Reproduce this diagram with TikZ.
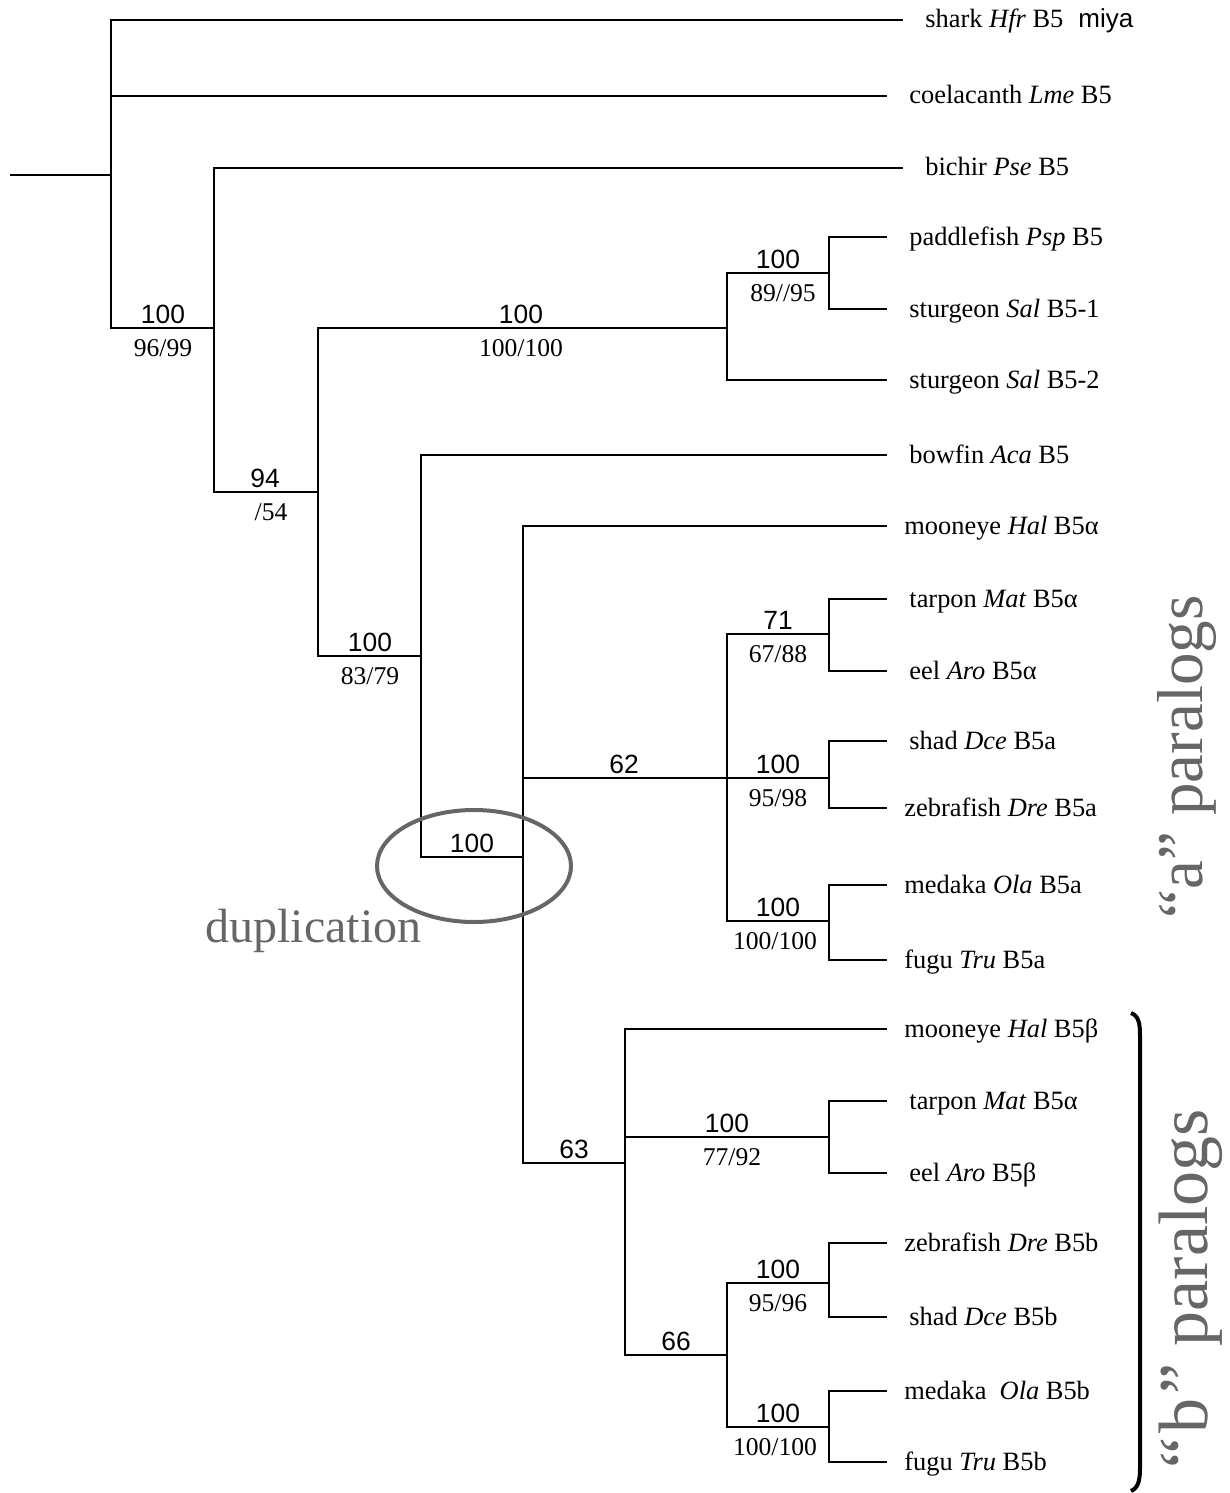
\documentclass[tikz,border=0pt]{standalone}
\usepackage{fontspec}
\setmainfont{Liberation Serif}
\setsansfont{Liberation Sans}
\usetikzlibrary{shapes.geometric}
\definecolor{dupgray}{HTML}{666666}
\begin{document}
\begin{tikzpicture}[x=0.5pt,y=-0.5pt,
  br/.style={line width=1.1pt},
  leaf/.style={anchor=west,inner xsep=11pt,inner ysep=0pt,text height=11pt,text depth=3pt,font=\fontsize{13.2}{15}\selectfont},
  leafn/.style={leaf,inner xsep=8.5pt},
  bsup/.style={anchor=south,inner sep=2pt,font=\sffamily\fontsize{13.2}{15}\selectfont},
  bsdn/.style={anchor=north,inner xsep=2pt,inner ysep=5.5pt,font=\fontsize{12.8}{15}\selectfont},
  note/.style={text=dupgray,inner sep=0pt}]
  \useasboundingbox (0,0) rectangle (1230,1493);

  % leaves
  \node[leaf] (shark) at (903,20) {shark \textit{Hfr} B5};
  \node[leaf] (coel) at (887,96) {coelacanth \textit{Lme} B5};
  \node[leaf] (bichir) at (903,168) {bichir \textit{Pse} B5};
  \node[leaf] (paddle) at (887,237) {paddlefish \textit{Psp} B5};
  \node[leaf] (sturA) at (887,309) {sturgeon \textit{Sal} B5-1};
  \node[leaf] (sturB) at (887,380) {sturgeon \textit{Sal} B5-2};
  \node[leaf] (bowfin) at (887,455) {bowfin \textit{Aca} B5};
  \node[leafn] (moonA) at (887,526) {mooneye \textit{Hal} B5α};
  \node[leaf] (tarpA) at (887,599) {tarpon \textit{Mat} B5α};
  \node[leaf] (eelA) at (887,671) {eel \textit{Aro} B5α};
  \node[leaf] (shadA) at (887,741) {shad \textit{Dce} B5a};
  \node[leafn] (zebA) at (887,808) {zebrafish \textit{Dre} B5a};
  \node[leafn] (medA) at (887,885) {medaka \textit{Ola} B5a};
  \node[leafn] (fuguA) at (887,960) {fugu \textit{Tru} B5a};
  \node[leafn] (moonB) at (887,1029) {mooneye \textit{Hal} B5β};
  \node[leaf] (tarpB) at (887,1101) {tarpon \textit{Mat} B5α};
  \node[leaf] (eelB) at (887,1173) {eel \textit{Aro} B5β};
  \node[leafn] (zebB) at (887,1243) {zebrafish \textit{Dre} B5b};
  \node[leaf] (shadB) at (887,1317) {shad \textit{Dce} B5b};
  \node[leafn] (medB) at (887,1391) {medaka\ \ \textit{Ola} B5b};
  \node[leafn] (fuguB) at (887,1462) {fugu \textit{Tru} B5b};
  \node[anchor=base west,inner sep=0pt,font=\sffamily\fontsize{13}{15}\selectfont] (miya) at (1078,28) {miya};

  % internal nodes
  \coordinate (root) at (10,175);
  \coordinate (n1) at (111,175);
  \coordinate (n2) at (214,328);
  \coordinate (n3) at (318,492);
  \coordinate (n4) at (727,328);
  \coordinate (n5) at (829,273);
  \coordinate (n6) at (421,656);
  \coordinate (n7) at (523,857);
  \coordinate (n8) at (727,778);
  \coordinate (n9) at (829,634);
  \coordinate (n10) at (829,778);
  \coordinate (n11) at (829,921);
  \coordinate (n12) at (625,1163);
  \coordinate (n13) at (829,1137);
  \coordinate (n14) at (727,1355);
  \coordinate (n15) at (829,1283);
  \coordinate (n16) at (829,1427);

  % branches
  \draw[br] (root) -- (n1);
  \draw[br] (n1) |- (shark.west); \draw[br] (n1) |- (coel.west); \draw[br] (n1) |- (n2);
  \draw[br] (n2) |- (bichir.west); \draw[br] (n2) |- (n3);
  \draw[br] (n3) |- (n4); \draw[br] (n3) |- (n6);
  \draw[br] (n4) |- (n5); \draw[br] (n4) |- (sturB.west);
  \draw[br] (n5) |- (paddle.west); \draw[br] (n5) |- (sturA.west);
  \draw[br] (n6) |- (bowfin.west); \draw[br] (n6) |- (n7);
  \draw[br] (n7) |- (moonA.west); \draw[br] (n7) |- (n8); \draw[br] (n7) |- (n12);
  \draw[br] (n8) |- (n9); \draw[br] (n8) |- (n10); \draw[br] (n8) |- (n11);
  \draw[br] (n9) |- (tarpA.west); \draw[br] (n9) |- (eelA.west);
  \draw[br] (n10) |- (shadA.west); \draw[br] (n10) |- (zebA.west);
  \draw[br] (n11) |- (medA.west); \draw[br] (n11) |- (fuguA.west);
  \draw[br] (n12) |- (moonB.west); \draw[br] (n12) |- (n13); \draw[br] (n12) |- (n14);
  \draw[br] (n13) |- (tarpB.west); \draw[br] (n13) |- (eelB.west);
  \draw[br] (n14) |- (n15); \draw[br] (n14) |- (n16);
  \draw[br] (n15) |- (zebB.west); \draw[br] (n15) |- (shadB.west);
  \draw[br] (n16) |- (medB.west); \draw[br] (n16) |- (fuguB.west);

  % support values
  \node[bsup] (s1) at (163,328) {100};  \node[bsdn] (t1) at (163,328) {96/99};
  \node[bsup] (s2) at (265,492) {94};   \node[bsdn] (t2) at (271,492) {/54};
  \node[bsup] (s3) at (521,328) {100};  \node[bsdn] (t3) at (521,328) {100/100};
  \node[bsup] (s4) at (778,273) {100};  \node[bsdn] (t4) at (783,273) {89//95};
  \node[bsup] (s5) at (370,656) {100};  \node[bsdn] (t5) at (370,656) {83/79};
  \node[bsup] (s6) at (472,857) {100};
  \node[bsup] (s7) at (624,778) {62};
  \node[bsup] (s8) at (778,634) {71};   \node[bsdn] (t8) at (778,634) {67/88};
  \node[bsup] (s9) at (778,778) {100};  \node[bsdn] (t9) at (778,778) {95/98};
  \node[bsup] (s10) at (778,921) {100}; \node[bsdn] (t10) at (775,921) {100/100};
  \node[bsup] (s11) at (574,1163) {63};
  \node[bsup] (s12) at (727,1137) {100}; \node[bsdn] (t12) at (732,1137) {77/92};
  \node[bsup] (s13) at (676,1355) {66};
  \node[bsup] (s14) at (778,1283) {100}; \node[bsdn] (t14) at (778,1283) {95/96};
  \node[bsup] (s15) at (778,1427) {100}; \node[bsdn] (t15) at (775,1427) {100/100};

  % duplication mark
  \node[draw=dupgray,ellipse,line width=2pt,minimum width=97pt,minimum height=56pt,inner sep=0pt] (ring) at (474,866) {};
  \node[note,anchor=base west,font=\fontsize{24}{28}\selectfont] (dup) at (205,942) {duplication};

  % paralog groups
  \node[note,rotate=90,anchor=base,font=\fontsize{32.5}{38}\selectfont] (grpA) at (1202,757) {“a” paralogs};
  \node[note,rotate=90,anchor=base,font=\fontsize{35}{40}\selectfont] (grpB) at (1207,1289) {“\kern2pt b\kern2pt” paralogs};
  \draw[line width=2pt] (1131,1013) .. controls (1139,1016) and (1140,1024) .. (1140,1036) -- (1140,1468) .. controls (1140,1481) and (1138,1488) .. (1131,1491);
\end{tikzpicture}
\end{document}
